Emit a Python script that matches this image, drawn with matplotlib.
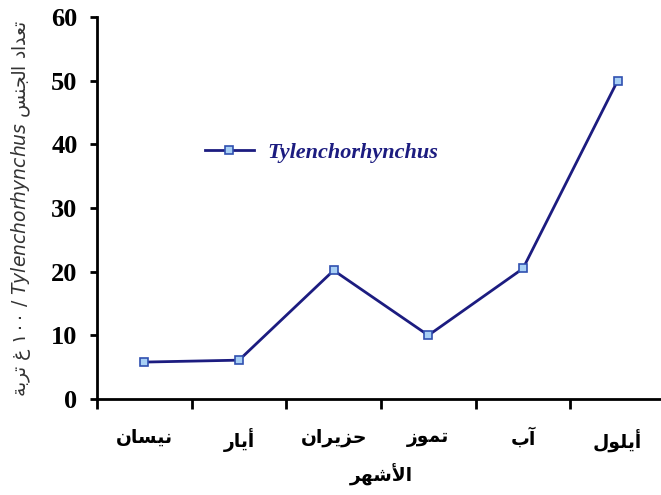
import matplotlib.pyplot as plt
import numpy as np

# Arabic text is written as presentation forms in visual (left-to-right) order
months = ['\uFEE5\uFE8E\uFEB4\uFEF4\uFEE7',        # نيسان
          '\uFEAD\uFE8E\uFEF3\uFE83',              # أيار
          '\uFEE5\uFE8D\uFEAE\uFEF3\uFEB0\uFEA3',  # حزيران
          '\uFEAF\uFEEE\uFEE4\uFE97',              # تموز
          '\uFE8F\uFE81',                          # آب
          '\uFEDD\uFEEE\uFEE0\uFEF3\uFE83']        # أيلول
counts = [5.8, 6.1, 20.2, 10.0, 20.5, 50.0]
yticks = [0, 10, 20, 30, 40, 50, 60]

xlabel = '\uFEAE\uFEEC\uFEB7\uFEF7\uFE8D'  # الأشهر
ylabel = ('\uFE94\uFE91\uFEAE\uFE97 \uFECD \u0661\u0660\u0660 / '
          '$\\it{Tylenchorhynchus}$ '
          '\uFEB2\uFEE8\uFEA0\uFEDF\uFE8D \uFEA9\uFE8D\uFEAA\uFECC\uFE97')
series_name = 'Tylenchorhynchus'

navy = '#1c1c80'

fig = plt.figure(figsize=(6.61, 4.95), dpi=100)
ax = fig.add_axes([97/661, 96/495, 568/661, 382/495])

x = np.arange(len(months))
ax.plot(x, counts, color=navy, lw=2, marker='s', ms=6,
        mfc='#a8d0f5', mec='#3050b0', mew=1.2, label=series_name)

ax.set_xlim(-0.5, len(months) - 0.5)
ax.set_ylim(0, 60)
ax.spines['top'].set_visible(False)
ax.spines['right'].set_visible(False)
for s in ['left', 'bottom']:
    ax.spines[s].set_linewidth(2)

ax.set_xticks(np.arange(-0.5, len(months)), labels=[])
ax.set_xticks(x, labels=months, minor=True)
ax.tick_params(axis='x', which='major', length=7, width=2, direction='out')
ax.tick_params(axis='x', which='minor', length=0, pad=21)
for t in ax.get_xticklabels(minor=True):
    t.set_fontsize(13.5)
    t.set_fontweight('bold')
    t.set_family('DejaVu Sans')

ax.set_yticks(yticks)
ax.tick_params(axis='y', length=5, width=2, direction='out', pad=9)
for t in ax.get_yticklabels():
    t.set_fontsize(19)
    t.set_fontweight('bold')
    t.set_family('Liberation Serif')

ax.set_xlabel(xlabel, fontsize=13.5, fontweight='bold', labelpad=8)
ax.set_ylabel(ylabel, fontsize=13.5, color='#333333', labelpad=13)

leg = ax.legend(loc='center left', bbox_to_anchor=(0.155, 0.645), frameon=False,
                handlelength=2.2, handletextpad=0.6,
                prop={'family': 'Liberation Serif', 'style': 'italic',
                      'weight': 'bold', 'size': 16})
for t in leg.get_texts():
    t.set_color(navy)

fig.savefig('out.png', dpi=100)
